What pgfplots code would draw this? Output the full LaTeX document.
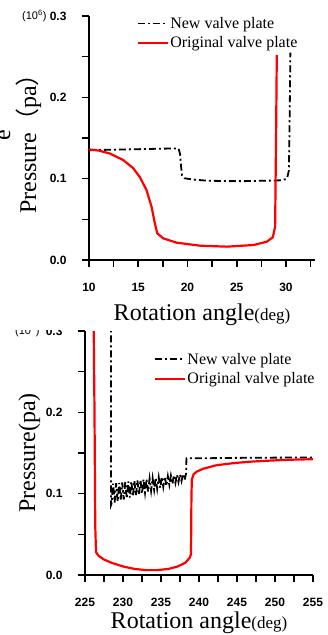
\documentclass[border=0pt]{standalone}
\usepackage{fontspec}
\setmainfont{Liberation Serif}
\setsansfont{Liberation Sans}
\newfontfamily\cjk{Noto Sans CJK SC}
\usepackage{pgfplots}
\pgfplotsset{compat=1.18}
\definecolor{myred}{RGB}{255,0,0}
\pgfplotsset{
  mystyle/.style={
    scale only axis,
    anchor=south west,
    ymin=0, ymax=0.3,
    axis x line*=bottom, axis y line*=left,
    axis line style={line width=1.6pt, black},
    tick style={line width=1.6pt, black},
    tick align=outside,
    major tick length=7pt, minor tick length=7pt,
    ytick={0,0.1,0.2,0.3}, minor ytick={0.05,0.15,0.25},
    /pgf/number format/assume math mode=true,
    tick label style={font=\fontsize{12}{14}\selectfont\sffamily\bfseries},
    yticklabel style={/pgf/number format/.cd, fixed, fixed zerofill, precision=1},
    xticklabel style={/pgf/number format/.cd, fixed, precision=0},
    xticklabel shift=13pt,
    yticklabel shift=12pt,
    legend image code/.code={\draw[#1] (0pt,0pt) -- (30pt,0pt);},
    legend cell align=left,
    legend style={draw=none, fill=none, inner sep=0pt, row sep=5pt,
      font=\fontsize{16}{19}\selectfont, nodes={inner sep=1pt}},
    label style={font=\fontsize{24}{28}\selectfont},
  },
  newvalve/.style={black, line width=1.8pt, dash pattern=on 7pt off 3pt on 2pt off 3pt},
  origvalve/.style={myred, line width=2.2pt},
}
\begin{document}
\begin{tikzpicture}[x=1pt,y=1pt]
\useasboundingbox (0,0) rectangle (327,635);
% ---------------- bottom panel ----------------
\begin{axis}[mystyle,
  at={(85pt,60pt)}, width=228pt, height=244pt,
  xmin=225, xmax=255,
  xtick={225,230,...,255}, minor xtick={227.5,232.5,...,252.5},
  xlabel={Rotation angle{\fontsize{17}{20}\selectfont(deg)}},
  ylabel={Pressure(pa)},
  xlabel style={at={(axis description cs:0.5,-0.218)}, anchor=base},
  ylabel style={at={(axis description cs:-0.219,0.5)}, anchor=base},
  legend style={at={(axis description cs:0.303,0.915)}, anchor=north west},
]
\addplot[newvalve] coordinates {
(228.42,0.35) (228.42,0.086)
(228.5,0.0880) (228.7,0.1123) (228.9,0.0892) (229.1,0.1128) (229.3,0.0904)
(229.5,0.1133) (229.7,0.0916) (229.9,0.1138) (230.1,0.0928) (230.3,0.1143)
(230.5,0.0940) (230.7,0.1149) (230.9,0.0952) (231.1,0.1154) (231.3,0.0964)
(231.5,0.1159) (231.7,0.0976) (231.9,0.1164) (232.1,0.0988) (232.3,0.1169)
(232.5,0.1000) (232.7,0.1175) (232.9,0.1012) (233.1,0.1180) (233.3,0.1024)
(233.5,0.1185) (233.7,0.1036) (233.9,0.1190) (234.1,0.1048) (234.3,0.1195)
(234.5,0.1060) (234.7,0.1201) (234.9,0.1072) (235.1,0.1206) (235.3,0.1084)
(235.5,0.1211) (235.7,0.1096) (235.9,0.1216) (236.1,0.1108) (236.3,0.1221)
(236.5,0.1120) (236.7,0.1227) (236.9,0.1132) (237.1,0.1232) (237.3,0.1144)
(237.5,0.1237) (237.7,0.1156) (237.9,0.1242) (238.1,0.1168) (238.3,0.1247)
(238.35,0.1435) (240,0.1435) (245,0.1440) (250,0.1443) (255,0.1445)
};
\addlegendentry{New valve plate}
\addplot[origvalve] coordinates {
(226.1,0.35) (226.25,0.2) (226.35,0.06) (226.45,0.028) (226.8,0.0235)
(227.5,0.019) (228.5,0.015) (230,0.0105) (231.5,0.0075) (233,0.006)
(234.5,0.006) (236,0.0075) (237.2,0.0105) (238.2,0.015) (238.8,0.0215)
(238.95,0.0255) (239.0,0.09) (239.05,0.117) (239.3,0.124) (239.7,0.127)
(240.5,0.1305) (242.3,0.135) (244.5,0.1375) (246.7,0.1393) (249,0.1405)
(251.1,0.1414) (253,0.142) (255,0.1423)
};
\addlegendentry{Original valve plate}
\end{axis}
\node[anchor=east, font=\fontsize{11}{13}\selectfont\sffamily] at (43,304) {(10\textsuperscript{6})};
\fill[white] (0,305) rectangle (75,320);
% ---------------- top panel ----------------
\begin{axis}[mystyle,
  at={(89pt,375pt)}, width=226pt, height=244pt,
  xmin=10, xmax=32.95,
  xtick={10,15,...,30}, minor xtick={12.5,17.5,...,32.5},
  xlabel={Rotation angle{\fontsize{17}{20}\selectfont(deg)}},
  ylabel={Pressure{\cjk （}pa{\cjk ）}},
  xlabel style={at={(axis description cs:0.5,-0.246)}, anchor=base},
  ylabel style={at={(axis description cs:-0.2345,0.5)}, anchor=base},
  legend style={at={(axis description cs:0.212,1.0)}, anchor=north west},
]
\addplot[newvalve] coordinates {
(10,0.135) (12,0.1355) (14,0.136) (16,0.1365) (18,0.137) (19.1,0.137)
(19.25,0.13) (19.35,0.115) (19.45,0.104) (19.7,0.1005) (20.5,0.099)
(22,0.0975) (24,0.097) (26,0.097) (28,0.0975) (29.6,0.098) (30.1,0.1)
(30.3,0.11) (30.35,0.15) (30.4,0.2) (30.45,0.255)
};
\addlegendentry{New valve plate}
\addplot[origvalve] coordinates {
(10,0.136) (11,0.1345) (12.1,0.131) (13.46,0.123) (14.48,0.113) (15.16,0.102)
(15.84,0.086) (16.35,0.0656) (16.69,0.045) (16.93,0.0328) (17.54,0.0266)
(18.9,0.0213) (21.27,0.0176) (24,0.0164) (26.7,0.0184) (28.06,0.0225)
(28.67,0.028) (28.9,0.041) (29.0,0.156) (29.07,0.252)
};
\addlegendentry{Original valve plate}
\end{axis}
\node[anchor=east, font=\fontsize{11}{13}\selectfont\sffamily] at (50,619) {(10\textsuperscript{6})};
\node[rotate=90, anchor=base, font=\fontsize{24}{28}\selectfont] at (10,500) {e};
\end{tikzpicture}
\end{document}
